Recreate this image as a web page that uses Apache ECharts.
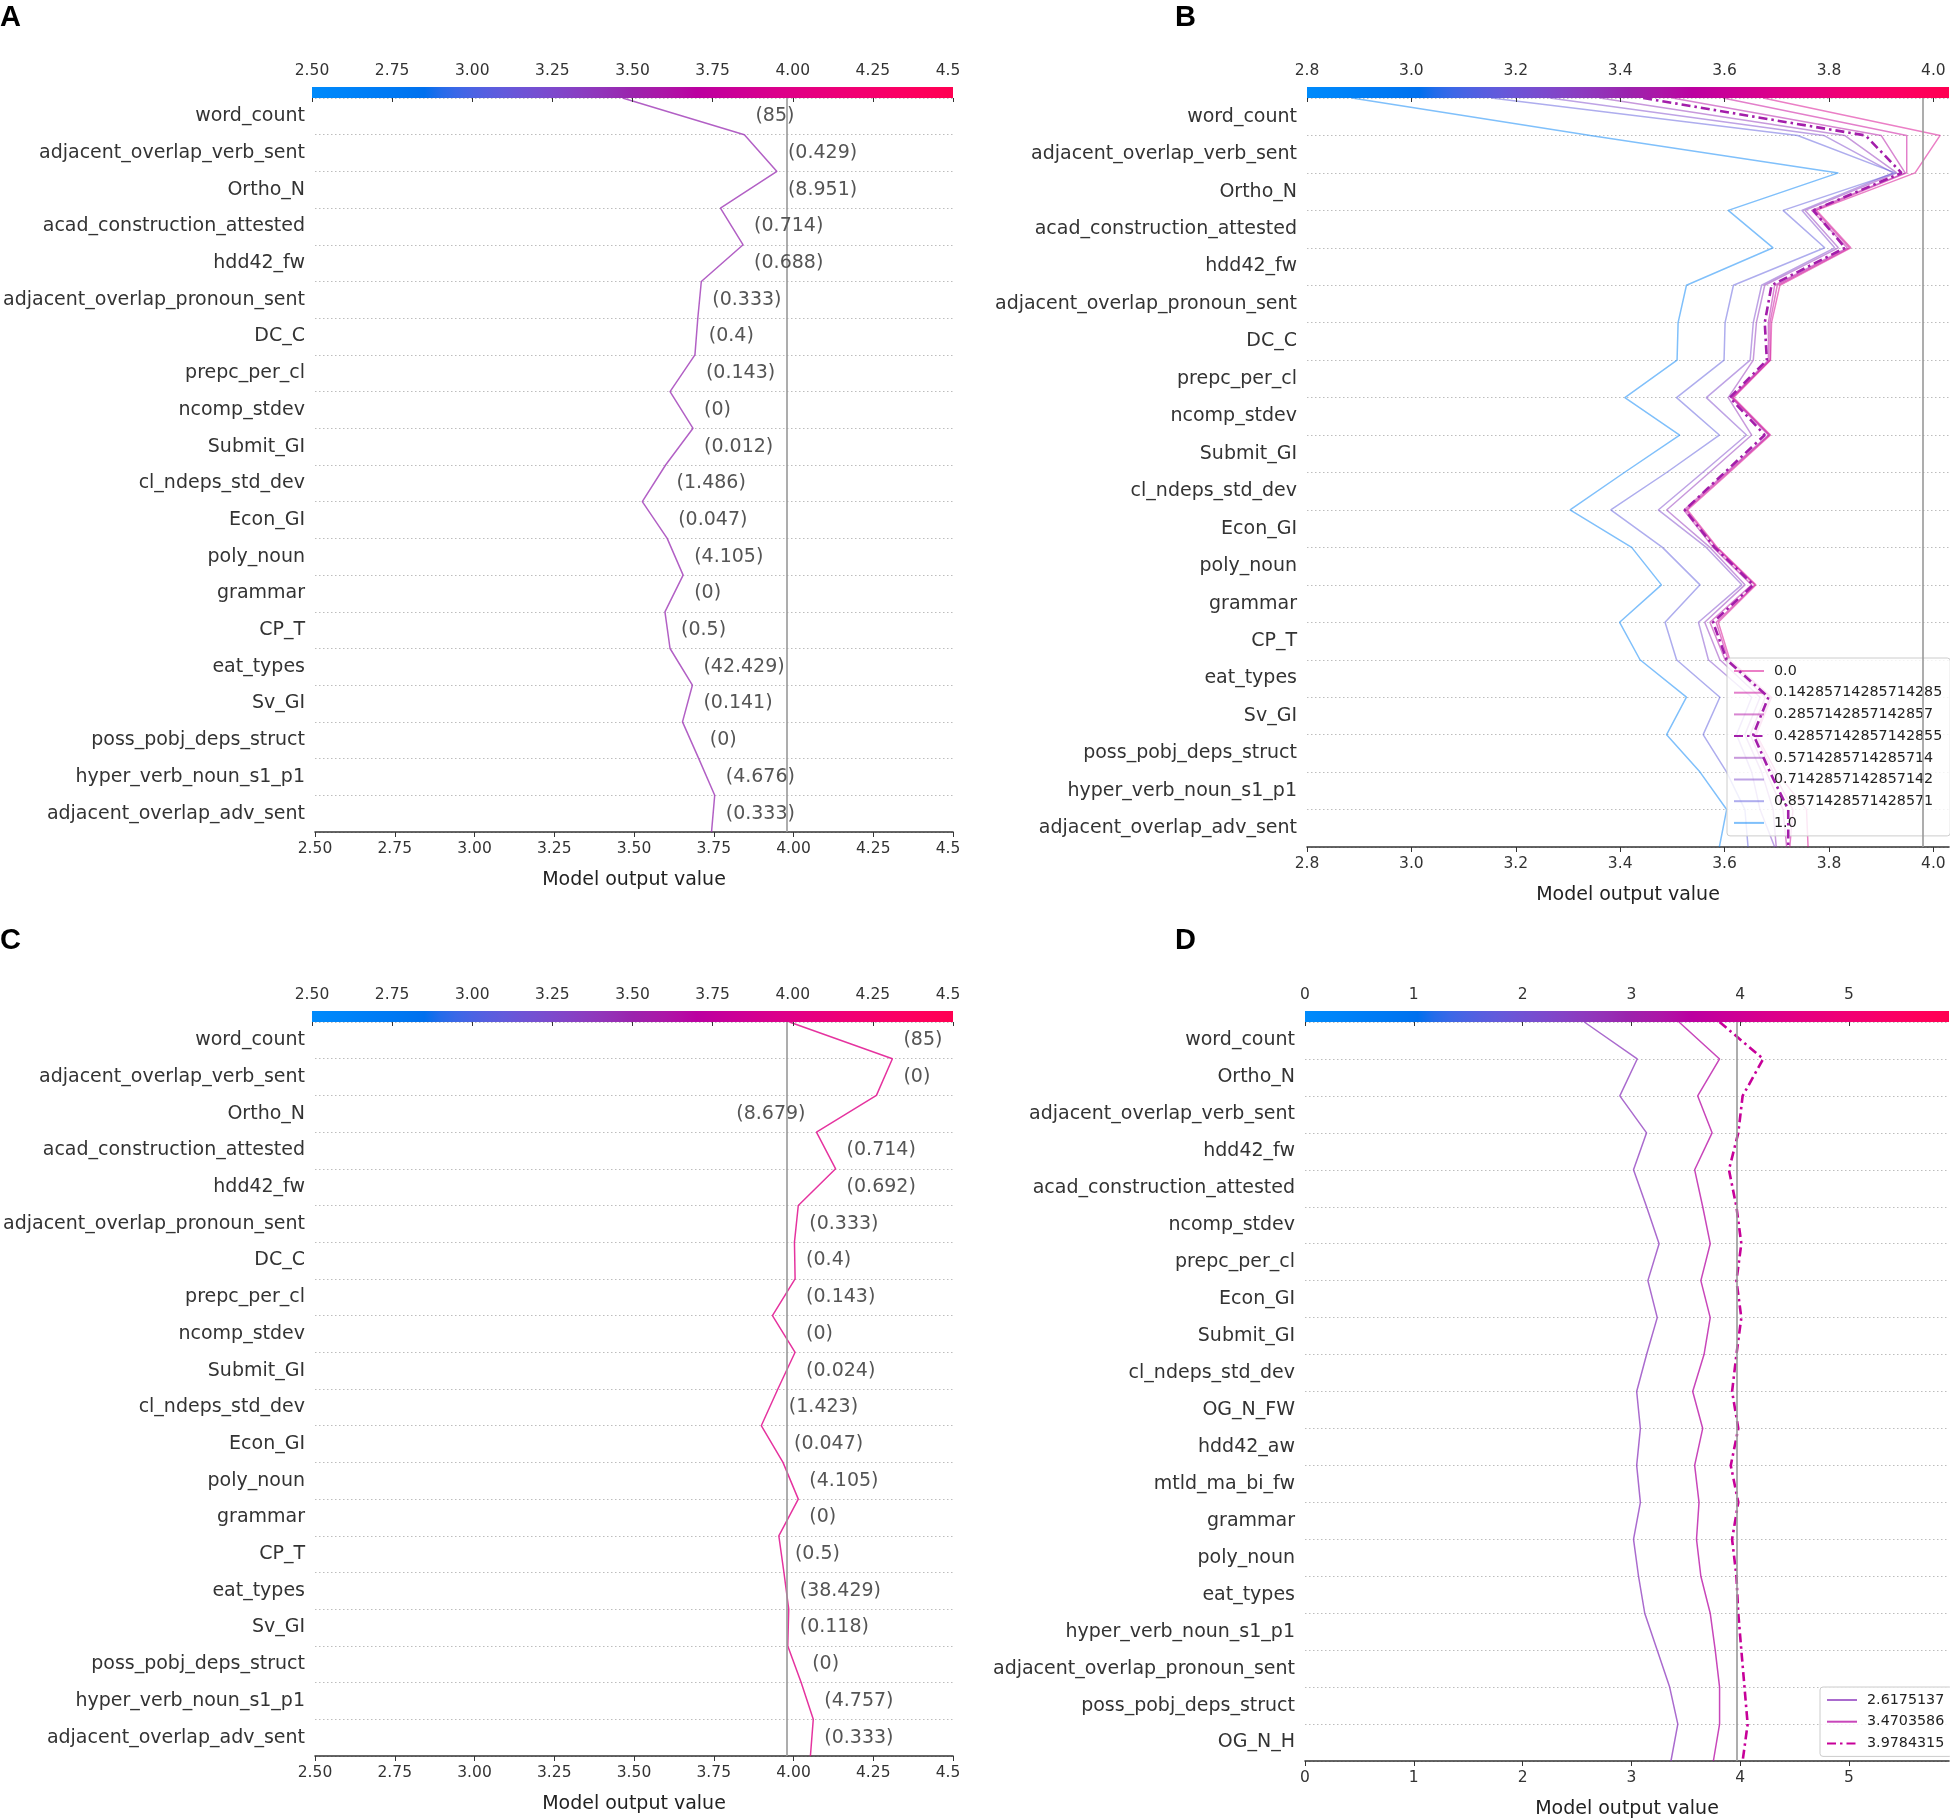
<!DOCTYPE html>
<html><head><meta charset="utf-8">
<script src="https://cdn.jsdelivr.net/npm/echarts@6/dist/echarts.min.js"></script>
<style>html,body{margin:0;padding:0;background:#fff}#main{width:1950px;height:1820px}</style>
</head><body><div id="main"></div>
<script>
// ---------------- data ----------------
const featuresABC = ['word_count','adjacent_overlap_verb_sent','Ortho_N','acad_construction_attested','hdd42_fw','adjacent_overlap_pronoun_sent','DC_C','prepc_per_cl','ncomp_stdev','Submit_GI','cl_ndeps_std_dev','Econ_GI','poly_noun','grammar','CP_T','eat_types','Sv_GI','poss_pobj_deps_struct','hyper_verb_noun_s1_p1','adjacent_overlap_adv_sent'];
const featuresD = ['word_count','Ortho_N','adjacent_overlap_verb_sent','hdd42_fw','acad_construction_attested','ncomp_stdev','prepc_per_cl','Econ_GI','Submit_GI','cl_ndeps_std_dev','OG_N_FW','hdd42_aw','mtld_ma_bi_fw','grammar','poly_noun','eat_types','hyper_verb_noun_s1_p1','adjacent_overlap_pronoun_sent','poss_pobj_deps_struct','OG_N_H'];

const valuesA = ['(85)','(0.429)','(8.951)','(0.714)','(0.688)','(0.333)','(0.4)','(0.143)','(0)','(0.012)','(1.486)','(0.047)','(4.105)','(0)','(0.5)','(42.429)','(0.141)','(0)','(4.676)','(0.333)'];
const valuesC = ['(85)','(0)','(8.679)','(0.714)','(0.692)','(0.333)','(0.4)','(0.143)','(0)','(0.024)','(1.423)','(0.047)','(4.105)','(0)','(0.5)','(38.429)','(0.118)','(0)','(4.757)','(0.333)'];

// model output at each boundary, from top (output) to bottom
const pathA = [3.464,3.846,3.948,3.771,3.842,3.711,3.700,3.691,3.613,3.685,3.599,3.526,3.604,3.654,3.597,3.613,3.683,3.652,3.703,3.753,3.743];
const pathC = [3.987,4.310,4.260,4.072,4.132,4.015,4.003,4.005,3.934,4.005,3.951,3.899,3.967,4.015,3.954,3.970,3.985,3.982,4.024,4.062,4.053];

const b000 = [3.674,4.013,3.965,3.776,3.842,3.706,3.690,3.688,3.617,3.688,3.609,3.529,3.586,3.660,3.588,3.610,3.690,3.661,3.699,3.757,3.760];
const b014 = [3.597,3.949,3.949,3.773,3.839,3.701,3.687,3.687,3.615,3.686,3.606,3.526,3.584,3.658,3.584,3.607,3.687,3.658,3.693,3.731,3.725];
const b029 = [3.500,3.900,3.946,3.767,3.835,3.696,3.684,3.684,3.613,3.684,3.603,3.522,3.578,3.652,3.572,3.601,3.678,3.649,3.680,3.712,3.719];
const b043 = [3.444,3.870,3.939,3.770,3.831,3.690,3.677,3.681,3.610,3.677,3.600,3.524,3.581,3.655,3.578,3.604,3.684,3.655,3.687,3.722,3.722];
const b057 = [3.361,3.830,3.930,3.754,3.818,3.677,3.661,3.655,3.607,3.652,3.571,3.489,3.572,3.639,3.562,3.591,3.668,3.639,3.671,3.693,3.699];
const b071 = [3.265,3.790,3.923,3.748,3.811,3.671,3.655,3.649,3.565,3.642,3.558,3.473,3.565,3.633,3.550,3.569,3.652,3.623,3.652,3.668,3.696];
const b086 = [3.153,3.740,3.927,3.712,3.792,3.617,3.601,3.599,3.508,3.590,3.489,3.382,3.481,3.553,3.486,3.508,3.591,3.559,3.604,3.639,3.645];
const b100 = [2.886,3.343,3.818,3.607,3.693,3.527,3.511,3.509,3.409,3.514,3.408,3.304,3.422,3.479,3.399,3.438,3.527,3.489,3.553,3.604,3.590];
const legendB = ['0.0','0.14285714285714285','0.2857142857142857','0.42857142857142855','0.5714285714285714','0.7142857142857142','0.8571428571428571','1.0'];

const d1 = [2.567,3.054,2.894,3.140,3.020,3.140,3.255,3.152,3.238,3.140,3.049,3.083,3.049,3.083,3.020,3.066,3.123,3.238,3.352,3.427,3.364];
const d2 = [3.438,3.811,3.610,3.742,3.582,3.656,3.725,3.639,3.725,3.668,3.564,3.656,3.582,3.622,3.599,3.639,3.725,3.771,3.811,3.811,3.754];
const d3 = [3.811,4.212,4.023,3.983,3.897,3.966,4.011,3.966,4.011,3.966,3.926,3.983,3.914,3.983,3.926,3.966,3.983,4.011,4.040,4.069,4.023];
const legendD = ['2.6175137','3.4703586','3.9784315'];

const ticksAC = [2.5,2.75,3.0,3.25,3.5,3.75,4.0,4.25,4.5];
const ticksB = [2.8,3.0,3.2,3.4,3.6,3.8,4.0];
const ticksD = [0,1,2,3,4,5];
const baseA = 3.978, baseB = 3.975, baseC = 3.978, baseD = 3.970;

// ---------------- helpers ----------------
const FONT = '"DejaVu Sans", "Noto Sans", sans-serif';
function lch2hex(L, C, H) {
  const a = C * Math.cos(H), b = C * Math.sin(H);
  const fy = (L + 16) / 116, fx = fy + a / 500, fz = fy - b / 200;
  const e = 216 / 24389, k = 24389 / 27;
  const xr = fx ** 3 > e ? fx ** 3 : (116 * fx - 16) / k;
  const yr = L > k * e ? fy ** 3 : L / k;
  const zr = fz ** 3 > e ? fz ** 3 : (116 * fz - 16) / k;
  const X = xr * 0.95047, Y = yr, Z = zr * 1.08883;
  const lin = [3.2404542 * X - 1.5371385 * Y - 0.4985314 * Z,
               -0.9692660 * X + 1.8760108 * Y + 0.0415560 * Z,
               0.0556434 * X - 0.2040259 * Y + 1.0572252 * Z];
  return '#' + lin.map(v => {
    v = v <= 0.0031308 ? 12.92 * v : 1.055 * Math.pow(v, 1 / 2.4) - 0.055;
    v = Math.round(Math.max(0, Math.min(1, v)) * 255);
    return v.toString(16).padStart(2, '0');
  }).join('');
}
function shapColor(t) {
  t = Math.max(0, Math.min(1, t));
  const L = t < 0.5 ? 54 - 14 * (t / 0.5) : 40 + 14 * ((t - 0.5) / 0.5);
  const C = 70 + 20 * t;
  const H = 4.6588 + (0.35470565 + 2 * Math.PI - 4.6588) * t;
  return lch2hex(L, C, H);
}
const gradStops = [];
for (let i = 0; i <= 40; i++) gradStops.push({offset: i / 40, color: shapColor(i / 40)});

const LBL = 19;
const mctx = document.createElement('canvas').getContext('2d');
mctx.font = LBL + 'px ' + FONT;
const measure = t => mctx.measureText(t).width;

const panels = [
  {left: 312, width: 641, top: 98, height: 734, min: 2.5, max: 4.5, ticks: ticksAC, dec: 2, feats: featuresABC, base: baseA},
  {left: 1307, width: 642, top: 98, height: 749, min: 2.8, max: 4.03, ticks: ticksB, dec: 1, feats: featuresABC, base: baseB},
  {left: 312, width: 641, top: 1022, height: 734, min: 2.5, max: 4.5, ticks: ticksAC, dec: 2, feats: featuresABC, base: baseC},
  {left: 1305, width: 644, top: 1022, height: 742, min: 0, max: 5.92, ticks: ticksD, dec: 0, feats: featuresD, base: baseD}
];

const grid = [], xAxis = [], yAxis = [], series = [];
const halfRows = [];
for (let k = 0; k < 20; k++) halfRows.push(k + 0.5);

panels.forEach((p, i) => {
  const gi = 2 * i, ci = 2 * i + 1;
  grid.push({left: p.left, top: p.top, width: p.width, height: p.height});
  grid.push({left: p.left, top: p.top - 11, width: p.width, height: 11});
  xAxis.push({
    gridIndex: gi, type: 'value', min: p.min, max: p.max, position: 'bottom',
    axisLine: {show: true, lineStyle: {color: '#333', width: 1.6}},
    axisTick: {show: true, length: 5, lineStyle: {color: '#333'}, customValues: p.ticks},
    axisLabel: {customValues: p.ticks, formatter: v => v.toFixed(p.dec), fontSize: 15.5, color: '#333', margin: 9, fontFamily: FONT},
    splitLine: {show: false},
    name: 'Model output value', nameLocation: 'middle', nameGap: 39,
    nameTextStyle: {fontSize: LBL, color: '#222', fontFamily: FONT}
  });
  xAxis.push({
    gridIndex: ci, type: 'value', min: p.min, max: p.max, position: 'top', z: 5,
    axisLine: {show: false},
    axisTick: {show: true, inside: true, length: 4, lineStyle: {color: '#333'}, customValues: p.ticks},
    axisLabel: {customValues: p.ticks, formatter: v => v.toFixed(p.dec), fontSize: 15.5, color: '#333', margin: 8, fontFamily: FONT},
    splitLine: {show: false}
  });
  yAxis.push({
    gridIndex: gi, type: 'value', min: 0, max: 20, interval: 1,
    axisLine: {show: false}, axisTick: {show: false},
    splitLine: {show: true, lineStyle: {color: '#bdbdbd', type: [1.5, 2.5], width: 1}},
    axisLabel: {customValues: halfRows, formatter: v => p.feats[Math.round(19.5 - v)], fontSize: LBL, color: '#333', margin: 10, fontFamily: FONT}
  });
  yAxis.push({gridIndex: ci, type: 'value', min: 0, max: 1, show: false});
  series.push({
    type: 'custom', xAxisIndex: ci, yAxisIndex: ci, silent: true, z: 1,
    data: [[p.min, 0]],
    renderItem: (params) => {
      const cs = params.coordSys;
      return {type: 'rect', shape: {x: cs.x, y: cs.y, width: cs.width, height: cs.height},
        style: {fill: new echarts.graphic.LinearGradient(0, 0, 1, 0, gradStops)}};
    }
  });
  // base value line
  series.push({
    type: 'line', xAxisIndex: gi, yAxisIndex: gi, data: [], silent: true, z: 1,
    markLine: {silent: true, symbol: 'none', animation: false, label: {show: false},
      lineStyle: {color: '#999999', width: 1.6, type: 'solid'}, data: [{xAxis: p.base}]}
  });
});

function decisionLine(name, path, gi, p, highlight, opacity) {
  const col = shapColor((path[0] - p.min) / (p.max - p.min));
  return {
    name, type: 'line', xAxisIndex: gi, yAxisIndex: gi, symbol: 'none', silent: true,
    z: highlight ? 4 : 3,
    data: path.map((v, k) => [v, 20 - k]),
    lineStyle: {color: col, width: highlight ? 2.6 : 1.5, opacity, type: highlight ? [9, 4, 2.5, 4] : 'solid'},
    itemStyle: {color: col, opacity}
  };
}
function valueLabels(path, labels, gi) {
  return {
    type: 'custom', xAxisIndex: gi, yAxisIndex: gi, silent: true, z: 5,
    data: labels.map((t, k) => [Math.max(path[k], path[k + 1]), 19.5 - k]),
    renderItem: (params, api) => {
      const k = params.dataIndex;
      const hi = api.coord([api.value(0), api.value(1)]);
      const lo = api.coord([Math.min(path[k], path[k + 1]), api.value(1)]);
      const text = labels[k];
      const right = params.coordSys.x + params.coordSys.width;
      let x = hi[0] + 11, align = 'left';
      if (x + measure(text) > right) { x = lo[0] - 11; align = 'right'; }
      return {type: 'text', style: {text, x, y: hi[1], align, verticalAlign: 'middle',
        fill: '#555555', fontSize: LBL, fontFamily: FONT}};
    }
  };
}

// Panel A
series.push(decisionLine('A', pathA, 0, panels[0], false, 0.75));
series.push(valueLabels(pathA, valuesA, 0));
// Panel B
const bPaths = [b000, b014, b029, b043, b057, b071, b086, b100];
bPaths.forEach((pth, j) => {
  series.push(decisionLine(legendB[j], pth, 2, panels[1], j === 3, j === 3 ? 1 : 0.5));
});
// Panel C
series.push(decisionLine('C', pathC, 4, panels[2], false, 0.8));
series.push(valueLabels(pathC, valuesC, 4));
// Panel D
[d1, d2, d3].forEach((pth, j) => {
  series.push(decisionLine(legendD[j], pth, 6, panels[3], j === 2, j === 2 ? 1 : 0.75));
});

const legendCommon = {
  orient: 'vertical', itemWidth: 30, itemHeight: 12, itemGap: 5.7, selectedMode: false,
  itemStyle: {color: 'rgba(0,0,0,0)', borderColor: 'rgba(0,0,0,0)', borderWidth: 0, opacity: 0},
  textStyle: {fontSize: 14.3, color: '#222', fontFamily: FONT, lineHeight: 16, padding: [0, 0, 0, 5]},
  backgroundColor: 'rgba(255,255,255,0.82)', borderColor: '#cccccc', borderWidth: 1, borderRadius: 3,
  padding: [5, 8, 5, 6]
};

const letter = (t, x, y) => ({type: 'text', left: x, top: y, z: 100,
  style: {text: t, font: 'bold 29px "Liberation Sans", Arial, sans-serif', fill: '#000'}});

const option = {
  animation: false,
  backgroundColor: '#ffffff',
  grid, xAxis, yAxis, series,
  legend: [
    Object.assign({data: legendB, left: 1727, top: 658}, legendCommon),
    Object.assign({data: legendD, left: 1820, top: 1687}, legendCommon)
  ],
  graphic: [
    {type: 'rect', left: 959, top: 0, z: 100, shape: {width: 24, height: 1820}, style: {fill: '#ffffff'}},
    letter('A', 0, 3), letter('B', 1175, 3), letter('C', 0, 926), letter('D', 1175, 926)
  ]
};

const chart = echarts.init(document.getElementById('main'), null, {width: 1950, height: 1820});
chart.setOption(option);
</script></body></html>
